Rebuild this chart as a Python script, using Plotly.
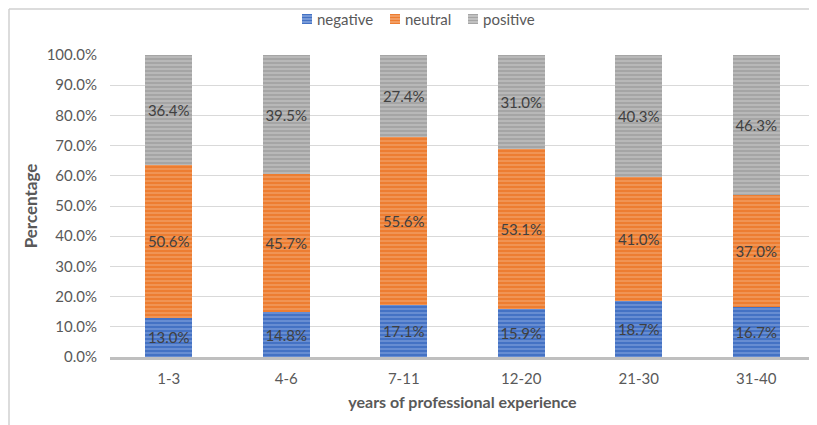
import plotly.graph_objects as go

categories = ["1-3", "4-6", "7-11", "12-20", "21-30", "31-40"]
negative = [13.0, 14.8, 17.1, 15.9, 18.7, 16.7]
neutral = [50.6, 45.7, 55.6, 53.1, 41.0, 37.0]
positive = [36.4, 39.5, 27.4, 31.0, 40.3, 46.3]
tick_vals = [0, 10, 20, 30, 40, 50, 60, 70, 80, 90, 100]

series = [
    ("negative", negative, "#4472C4", "#A9C0EA"),
    ("neutral", neutral, "#ED7D31", "#F7BE95"),
    ("positive", positive, "#A5A5A5", "#DCDCDC"),
]
legend_px = [294, 382, 460]  # swatch left edge (px, figure coords)

FONT = "Lato"
W, H = 809, 417
L, R, T, B = 102, 2, 47, 68
pw, ph = W - L - R, H - T - B


def px_x(p):
    return (p - L) / pw


def px_y(p):
    return 1 + (T - p) / ph


fig = go.Figure()
for name, vals, col, light in series:
    fig.add_trace(go.Bar(
        name=name, x=categories, y=vals,
        marker=dict(color=col, line=dict(width=0),
                    pattern=dict(shape="-", fgcolor=light, bgcolor=col,
                                 size=4, solidity=0.35)),
        texttemplate="%{y:.1f}%", textposition="inside",
        insidetextanchor="middle", textangle=0, constraintext="none",
        textfont=dict(family=FONT, size=15, color="#404040"),
        hoverinfo="skip", showlegend=False,
    ))

# manual legend
for (name, vals, col, light), lx in zip(series, legend_px):
    fig.add_shape(type="rect", xref="paper", yref="paper",
                  x0=px_x(lx), x1=px_x(lx + 10), y0=px_y(16), y1=px_y(6),
                  fillcolor=col, line=dict(width=0))
    for k in range(3):
        yy = 8 + k * 3
        fig.add_shape(type="line", xref="paper", yref="paper",
                      x0=px_x(lx), x1=px_x(lx + 10), y0=px_y(yy), y1=px_y(yy),
                      line=dict(color=light, width=1))
    fig.add_annotation(text=name, xref="paper", yref="paper",
                       x=px_x(lx + 13), y=px_y(11), xanchor="left", yanchor="middle",
                       showarrow=False, font=dict(family=FONT, size=15, color="#595959"))

fig.update_layout(
    barmode="stack", bargap=0.6,
    width=W, height=H,
    margin=dict(l=L, r=R, t=T, b=B, autoexpand=False),
    paper_bgcolor="white", plot_bgcolor="white",
    font=dict(family=FONT, color="#595959"),
    showlegend=False,
    uniformtext=dict(mode="show", minsize=15),
)
fig.update_yaxes(
    range=[0, 100], tickvals=tick_vals,
    ticktext=[f"{v:.1f}%" for v in tick_vals],
    showgrid=True, gridcolor="#D9D9D9", gridwidth=1,
    zeroline=False, showline=False,
    tickfont=dict(family=FONT, size=15, color="#595959"),
    title=dict(text="<b>Percentage</b>", font=dict(family=FONT, size=17, color="#595959"), standoff=4),
    ticks="", ticklabelstandoff=12,
)
fig.update_xaxes(
    showline=True, linecolor="#BFBFBF", linewidth=3,
    tickfont=dict(family=FONT, size=15, color="#595959"),
    title=dict(text="<b>years of professional experience</b>", font=dict(family=FONT, size=16, color="#595959"), standoff=11),
    ticks="", ticklabelstandoff=6,
)
# outer frame lines
fig.add_shape(type="line", xref="paper", yref="paper", x0=px_x(1), x1=1.01,
              y0=px_y(1), y1=px_y(1), line=dict(color="#D0D0D0", width=1.5))
fig.add_shape(type="line", xref="paper", yref="paper", x0=px_x(1), x1=px_x(1),
              y0=-0.3, y1=px_y(1), line=dict(color="#D0D0D0", width=1.5))

fig.write_html("out.html")
